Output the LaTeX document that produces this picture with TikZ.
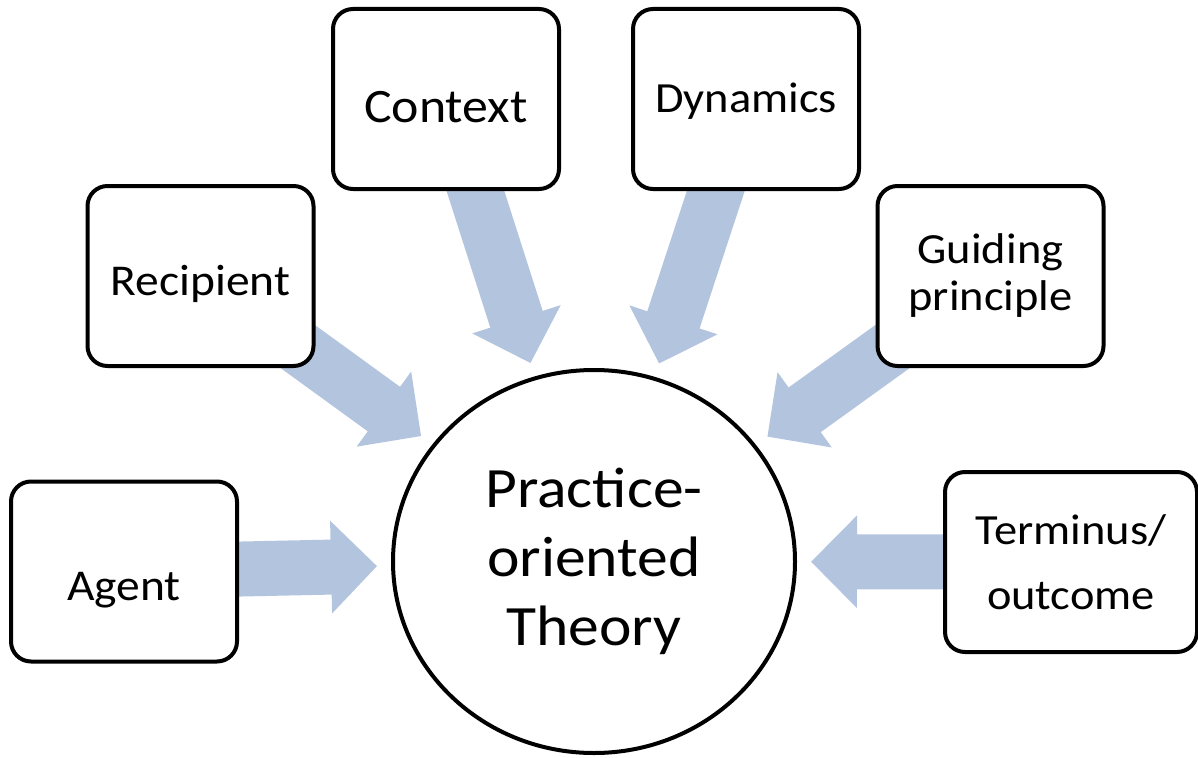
\documentclass[tikz,border=0pt]{standalone}
\usepackage{fontspec}
\setmainfont{Carlito}[FakeStretch=1.08]
\usetikzlibrary{shapes.geometric}
\usetikzlibrary{arrows.meta}
\usetikzlibrary{backgrounds}

\definecolor{flowblue}{RGB}{179,196,222}

\begin{document}
\begin{tikzpicture}[
    x=1pt,
    y=-1pt,
    factor/.style={
      rectangle,
      rounded corners=20pt,
      draw,
      line width=4pt,
      fill=white,
      minimum width=226pt,
      minimum height=180pt,
      inner sep=0pt,
      align=center,
      font=\fontsize{44}{47}\selectfont
    },
    theory/.style={
      ellipse,
      draw,
      line width=4pt,
      fill=white,
      minimum width=402pt,
      minimum height=383pt,
      inner sep=0pt,
      align=center,
      font=\fontsize{57}{69}\selectfont
    },
    flow/.style={
      draw=flowblue,
      line width=55pt,
      -{Triangle[length=46pt,width=90pt]},
      shorten >=14pt
    },
    ]

    \useasboundingbox (0,0) rectangle (1198,757);

    \node (pot) [theory] at (594,561.5) {Practice-\\oriented\\Theory};

    \node (agent)     [factor, text height=57pt, text depth=0pt] at (124,571.5) {Agent};
    \node (recipient) [factor, text height=38pt, text depth=0pt] at (200.5,276) {Recipient};
    \node (context)   [factor, text height=46pt, text depth=0pt,
                       font=\fontsize{48}{52}\selectfont] at (446,99) {Context};
    \node (dynamics)  [factor, text height=28pt, text depth=0pt,
                       font=\fontsize{43}{47}\selectfont] at (746,99) {Dynamics};
    \node (guiding)   [factor, font=\fontsize{43}{47}\selectfont] at (990.5,276) {Guiding\\principle};
    \node (terminus)  [factor, minimum width=252pt,
                       font=\fontsize{43}{65}\selectfont] at (1071,562) {Terminus/\\outcome};

    \begin{scope}[on background layer]
      \foreach \n in {agent,recipient,context,dynamics,guiding,terminus}{
        \draw[flow] (\n.center) -- (pot);
      }
    \end{scope}
  \end{tikzpicture}
\end{document}
